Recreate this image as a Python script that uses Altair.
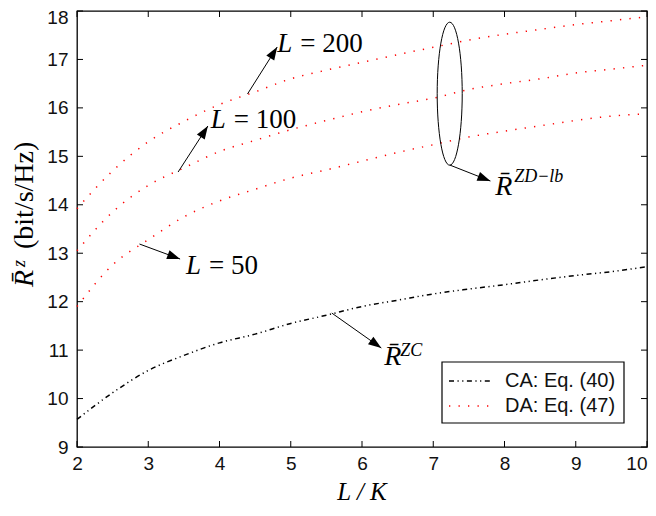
import math
import altair as alt
import pandas as pd

# ---------------- data ----------------
x_vals = [2, 2.5, 3, 3.5, 4, 4.5, 5, 5.5, 6, 6.5, 7, 7.5, 8, 8.5, 9, 9.5, 10]
ca_eq40 = [9.57, 10.12, 10.58, 10.89, 11.15, 11.33, 11.55, 11.72, 11.90, 12.03,
           12.16, 12.26, 12.35, 12.45, 12.54, 12.62, 12.72]
da_L50 = [11.90, 12.76, 13.28, 13.75, 14.08, 14.32, 14.55, 14.72, 14.90, 15.08,
          15.24, 15.40, 15.52, 15.63, 15.74, 15.83, 15.88]
da_L100 = [13.05, 13.85, 14.40, 14.76, 15.10, 15.33, 15.55, 15.74, 15.92, 16.07,
           16.20, 16.38, 16.50, 16.60, 16.72, 16.80, 16.88]
da_L200 = [13.92, 14.70, 15.30, 15.72, 16.07, 16.33, 16.60, 16.78, 16.94, 17.10,
           17.25, 17.40, 17.52, 17.62, 17.72, 17.80, 17.88]

methods = ["CA: Eq. (40)", "DA: Eq. (47)"]
x_ticks = [2, 3, 4, 5, 6, 7, 8, 9, 10]
y_ticks = [9, 10, 11, 12, 13, 14, 15, 16, 17, 18]

# annotation arrows (tail -> head), in data coordinates
arrow_tail_x = [4.393, 3.419, 2.877, 7.231, 5.576]
arrow_tail_y = [16.287, 14.676, 13.19, 14.821, 11.765]
arrow_head_x = [4.810, 3.837, 3.447, 7.802, 6.271]
arrow_head_y = [17.257, 15.626, 12.88, 14.49, 11.043]

# annotation texts
lab_L_x = [4.810, 3.878, 3.530]
lab_L_y = [17.319, 15.750, 12.736]
lab_eq_text = ["= 200", "= 100", "= 50"]
rbar_x = [7.871, 6.313]
rbar_y = [14.377, 10.857]
sup_text = ["ZD\u2212lb", "ZC"]
sup_x = [8.136, 6.536]
sup_y = [14.573, 10.981]
ellipse_x = [7.231]
ellipse_y = [16.293]

W, H = 570, 436
XPU = W / 8.0
YPU = H / 9.0
SERIF = "Liberation Serif"
SANS = "Liberation Sans"

# ---------------- build tables ----------------
rows = []
for name, meth, ys in [("CA", methods[0], ca_eq40), ("L50", methods[1], da_L50),
                       ("L100", methods[1], da_L100), ("L200", methods[1], da_L200)]:
    for xv, yv in zip(x_vals, ys):
        rows.append({"x": xv, "y": yv, "method": meth, "curve": name})
df = pd.DataFrame(rows)

arr = pd.DataFrame({"tx": arrow_tail_x, "ty": arrow_tail_y, "hx": arrow_head_x, "hy": arrow_head_y})
arr["ang"] = [
    math.degrees(math.atan2((hx - tx) * XPU, (hy - ty) * YPU)) % 360
    for tx, ty, hx, hy in zip(arr.tx, arr.ty, arr.hx, arr.hy)
]

xscale = alt.Scale(domain=[2, 10], nice=False, zero=False)
yscale = alt.Scale(domain=[9, 18], nice=False, zero=False)
xaxis = alt.Axis(values=x_ticks, ticks=False, domain=False, grid=False,
                 labelFont=SANS, labelFontSize=19, labelColor="#111",
                 labelPadding=7, labelFlush=False, title=None,
                 labelAlign={"condition": {"test": "datum.value == 10", "value": "right"},
                             "value": "center"})
yaxis = alt.Axis(values=y_ticks, ticks=False, domain=False, grid=False,
                 labelFont=SANS, labelFontSize=19, labelColor="#111",
                 labelPadding=9, labelFlush=False, title=None,
                 labelBaseline={"condition": {"test": "datum.value == 18", "value": "top"},
                                "value": "middle"},
                 labelOffset={"condition": {"test": "datum.value == 18", "value": -3},
                              "value": 0})


def X(f):
    return alt.X(f, type="quantitative", scale=xscale, axis=xaxis)


def Y(f):
    return alt.Y(f, type="quantitative", scale=yscale, axis=yaxis)


dash_ca = [5, 3.5, 1.2, 3.5, 1.2, 3.5]
dash_da = [1.3, 8.2]

lines = alt.Chart(df).mark_line(interpolate="monotone", strokeWidth=1.5).encode(
    x=X("x"), y=Y("y"),
    color=alt.Color("method:N", scale=alt.Scale(domain=methods, range=["black", "red"]),
                    legend=None),
    strokeDash=alt.StrokeDash("method:N",
                              scale=alt.Scale(domain=methods, range=[dash_ca, dash_da]),
                              legend=None),
    detail="curve:N",
)

tdf_x = pd.DataFrame({"t": x_ticks})
tdf_y = pd.DataFrame({"t": y_ticks})
tick_b = alt.Chart(tdf_x).mark_rule(color="black", strokeWidth=1).encode(
    x=X("t"), y=alt.value(H), y2=alt.value(H - 6))
tick_t = alt.Chart(tdf_x).mark_rule(color="black", strokeWidth=1).encode(
    x=X("t"), y=alt.value(0), y2=alt.value(6))
tick_l = alt.Chart(tdf_y).mark_rule(color="black", strokeWidth=1).encode(
    y=Y("t"), x=alt.value(0), x2=alt.value(6))
tick_r = alt.Chart(tdf_y).mark_rule(color="black", strokeWidth=1).encode(
    y=Y("t"), x=alt.value(W - 6), x2=alt.value(W))

arrow_lines = alt.Chart(arr).mark_rule(color="black", strokeWidth=1).encode(
    x=X("tx"), y=Y("ty"), x2="hx:Q", y2="hy:Q")
arrow_heads = alt.Chart(arr).mark_point(
    shape="M0,0L-0.36,1L0.36,1Z", filled=True, fill="black", strokeWidth=0,
    size=676, opacity=1).encode(
    x=X("hx"), y=Y("hy"), angle=alt.Angle("ang:Q", scale=None))

ell = alt.Chart(pd.DataFrame({"x": ellipse_x, "y": ellipse_y})).mark_point(
    shape="M0,-1A0.175,1,0,1,1,0,1A0.175,1,0,1,1,0,-1Z", filled=False,
    stroke="black", strokeWidth=1, size=20449, opacity=1).encode(x=X("x"), y=Y("y"))

ldf = pd.DataFrame({"x": lab_L_x, "y": lab_L_y, "eq": lab_eq_text})
txt_L = alt.Chart(ldf).mark_text(font=SERIF, fontStyle="italic", fontSize=27,
                                 align="left", baseline="middle", color="black").encode(
    x=X("x"), y=Y("y"), text=alt.value("L"))
txt_eq = alt.Chart(ldf).mark_text(font=SERIF, fontSize=27, align="left", dx=23,
                                  baseline="middle", color="black").encode(
    x=X("x"), y=Y("y"), text="eq:N")
txt_R = alt.Chart(pd.DataFrame({"x": rbar_x, "y": rbar_y})).mark_text(
    font=SERIF, fontStyle="italic", fontSize=28, align="left", baseline="middle",
    color="black").encode(x=X("x"), y=Y("y"), text=alt.value("R\u0304"))
txt_sup = alt.Chart(pd.DataFrame({"x": sup_x, "y": sup_y, "s": sup_text})).mark_text(
    font=SERIF, fontStyle="italic", fontSize=18, align="left", baseline="middle",
    color="black").encode(x=X("x"), y=Y("y"), text="s:N")

# manual legend (box, samples, labels)
one = pd.DataFrame({"a": [0]})
LB_R = W - 23
LB_L = LB_R - 182
leg_box = alt.Chart(one).mark_rect(fill="white", stroke="black", strokeWidth=1.2).encode(
    x=alt.value(LB_L), x2=alt.value(LB_R), y=alt.value(351), y2=alt.value(412))
leg_ca = alt.Chart(one).mark_rule(color="black", strokeWidth=1.5, strokeDash=dash_ca).encode(
    x=alt.value(LB_L + 7), x2=alt.value(LB_L + 50), y=alt.value(370))
leg_da = alt.Chart(one).mark_rule(color="red", strokeWidth=1.5, strokeDash=dash_da).encode(
    x=alt.value(LB_L + 7), x2=alt.value(LB_L + 50), y=alt.value(395))
leg_t1 = alt.Chart(one).mark_text(font=SANS, fontSize=20, align="left", baseline="middle",
                                  color="#111").encode(
    x=alt.value(LB_L + 63), y=alt.value(370), text=alt.value(methods[0]))
leg_t2 = alt.Chart(one).mark_text(font=SANS, fontSize=20, align="left", baseline="middle",
                                  color="#111").encode(
    x=alt.value(LB_L + 63), y=alt.value(395), text=alt.value(methods[1]))

# axis titles
ytitle_R = alt.Chart(one).mark_text(
    font=SERIF, fontStyle="italic", fontSize=28, angle=270, align="left",
    baseline="alphabetic", color="black").encode(
    x=alt.value(-44), y=alt.value(276), text=alt.value("R\u0304"))
ytitle_z = alt.Chart(one).mark_text(
    font=SERIF, fontStyle="italic", fontSize=18, angle=270, align="left",
    baseline="alphabetic", color="black").encode(
    x=alt.value(-52), y=alt.value(256), text=alt.value("z"))
ytitle_u = alt.Chart(one).mark_text(
    font=SERIF, fontSize=28, angle=270, align="left",
    baseline="alphabetic", color="black").encode(
    x=alt.value(-44), y=alt.value(238), text=alt.value("(bit/s/Hz)"))
xtitle = alt.Chart(one).mark_text(
    font=SERIF, fontStyle="italic", fontSize=25, align="center",
    baseline="alphabetic", color="black").encode(
    x=alt.value(W / 2), y=alt.value(489), text=alt.value("L / K"))

chart = alt.layer(
    lines, tick_b, tick_t, tick_l, tick_r, arrow_lines, arrow_heads, ell,
    txt_L, txt_eq, txt_R, txt_sup,
    leg_box, leg_ca, leg_da, leg_t1, leg_t2,
    ytitle_R, ytitle_z, ytitle_u, xtitle,
).properties(
    width=W, height=H,
    autosize=alt.AutoSizeParams(type="none"),
    padding={"left": 69, "top": 3, "right": 1, "bottom": 60},
).configure_view(
    stroke="black", strokeWidth=1.3
)

chart.save("out.html", embed_options={"renderer": "svg", "actions": False})
